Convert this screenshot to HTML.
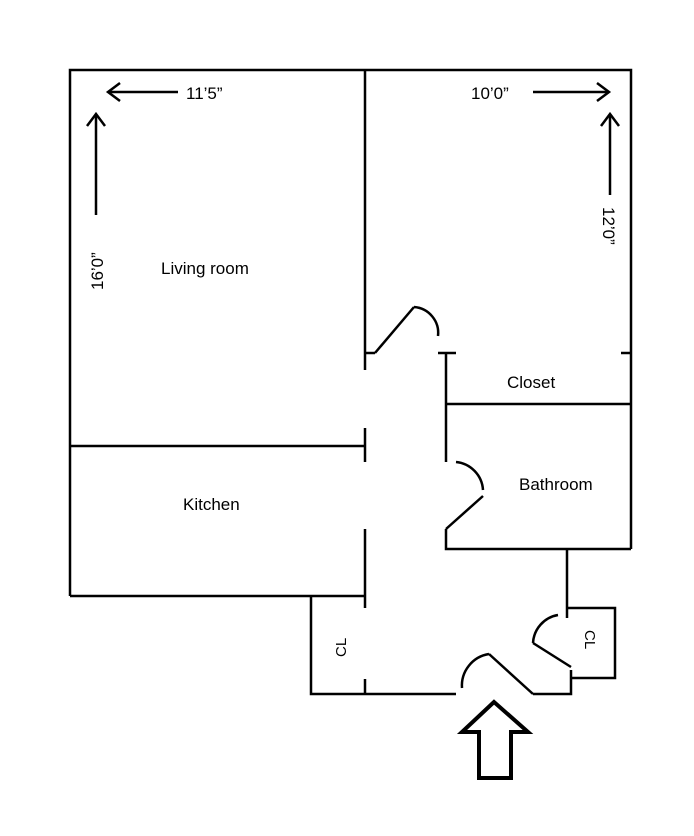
<!DOCTYPE html>
<html><head><meta charset="utf-8"><style>
html,body{margin:0;padding:0;background:#fff}
svg{display:block}
text{font-family:"Liberation Sans",sans-serif;font-size:17px;fill:#000}
</style></head><body>
<svg width="694" height="836" viewBox="0 0 694 836" xmlns="http://www.w3.org/2000/svg">
<g stroke="#000" stroke-width="2.5" fill="none" stroke-linecap="butt">
<!-- outer -->
<polyline points="70,596 70,70 631,70 631,549"/>
<!-- living room right wall -->
<line x1="365" y1="70" x2="365" y2="370"/>
<line x1="365" y1="353" x2="375" y2="353"/>
<line x1="375" y1="353" x2="414" y2="307"/>
<path d="M414,307 A26,26 0 0 1 438,336"/>
<!-- closet -->
<line x1="438" y1="353" x2="456" y2="353"/>
<line x1="446" y1="353" x2="446" y2="462"/>
<line x1="621" y1="353" x2="631" y2="353"/>
<line x1="446" y1="404" x2="632" y2="404"/>
<!-- kitchen -->
<line x1="70" y1="446" x2="365" y2="446"/>
<line x1="365" y1="428" x2="365" y2="462"/>
<line x1="70" y1="596" x2="365" y2="596"/>
<line x1="365" y1="529" x2="365" y2="608"/>
<!-- bathroom door -->
<path d="M456,462 A30,30 0 0 1 483,490"/>
<line x1="483" y1="496" x2="446" y2="529"/>
<polyline points="446,529 446,549 631,549"/>
<!-- left CL -->
<polyline points="311,596 311,694 456,694"/>
<line x1="365" y1="679" x2="365" y2="694"/>
<!-- entry door -->
<path d="M462,688 A32,32 0 0 1 489,654"/>
<line x1="489" y1="654" x2="533" y2="694"/>
<polyline points="533,694 571,694 571,670"/>
<!-- right CL -->
<line x1="567" y1="549" x2="567" y2="618"/>
<polyline points="567,608 615,608 615,678 571,678"/>
<line x1="533" y1="643" x2="571" y2="667"/>
<path d="M533,643 A30,30 0 0 1 558,615"/>
<!-- dimension arrows -->
<line x1="108" y1="92" x2="178" y2="92"/>
<polyline points="120,83 108,92 120,101"/>
<line x1="533" y1="92" x2="609" y2="92"/>
<polyline points="597,83 609,92 597,101"/>
<line x1="96" y1="114" x2="96" y2="215"/>
<polyline points="87,126 96,114 105,126"/>
<line x1="610" y1="114" x2="610" y2="195"/>
<polyline points="601,126 610,114 619,126"/>
</g>
<!-- entry arrow -->
<polygon points="494,702 528,732 511,732 511,778 479,778 479,732 462,732" fill="none" stroke="#000" stroke-width="4" stroke-linejoin="miter"/>
<text x="186" y="99">11’5”</text>
<text x="471" y="99">10’0”</text>
<text x="161" y="274">Living room</text>
<text x="183" y="510">Kitchen</text>
<text x="507" y="388">Closet</text>
<text x="519" y="490">Bathroom</text>
<text transform="translate(103,290) rotate(-90)">16’0”</text>
<text transform="translate(603,207) rotate(90)">12’0”</text>
<text transform="translate(346,657) rotate(-90)" style="font-size:15px">CL</text>
<text transform="translate(585,630) rotate(90)" style="font-size:15px">CL</text>
</svg>
</body></html>
